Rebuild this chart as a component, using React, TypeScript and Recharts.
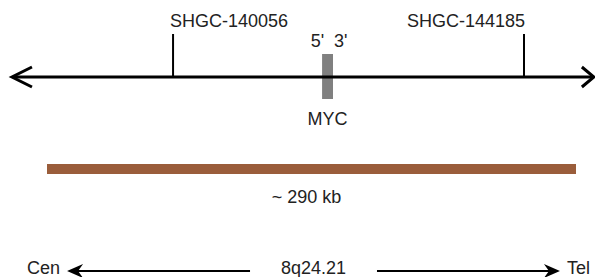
import { ComposedChart, XAxis, YAxis, ReferenceLine, ReferenceArea, ReferenceDot } from 'recharts'

// positions along the map, in kb (0 = left end of the ~290 kb region)
const MAP_SPAN_KB = [-19.2, 299.8]
const MARKER_NAMES = ['SHGC-140056', 'SHGC-144185']
const MARKER_KB = [69.1, 261.5]
const GENE_NAME = 'MYC'
const GENE_KB = [150.8, 156.8]
const STRAND_ENDS = ["5'", "3'"]
const REGION_KB = [0, 290]
const REGION_LABEL = '~ 290 kb'
const BAND_LABEL = '8q24.21'
const ORIENT_LABELS = ['Cen', 'Tel']
const CEN_ARROW_KB = [11.0, 111.3]
const TEL_ARROW_KB = [180.9, 281.2]

const FONT = '"Liberation Sans", Arial, sans-serif'
const TXT = '#222'
const FS = 18

// vertical rows (pixels from top)
const ROW_MAIN = 77
const ROW_TICK_TOP = 34
const ROW_BOTTOM = 271

function Label({ x, y, text, anchor = 'middle' }: { x: number; y: number; text: string; anchor?: string }) {
  return (
    <text x={x} y={y} textAnchor={anchor as any} fontFamily={FONT} fontSize={FS} fill={TXT}>
      {text}
    </text>
  )
}

function MainLine(p: any) {
  const { x1, x2, y1 } = p
  return (
    <g fill="none" stroke="#000" strokeWidth={3}>
      <line x1={x1 + 1} y1={y1} x2={x2 - 1} y2={y1} />
      <polyline points={`${x1 + 20},${y1 - 10} ${x1},${y1} ${x1 + 20},${y1 + 10}`} strokeLinejoin="miter" />
      <polyline points={`${x2 - 12},${y1 - 10} ${x2},${y1} ${x2 - 12},${y1 + 10}`} strokeLinejoin="miter" />
    </g>
  )
}

// line with a filled arrow head at the outer end and the label beyond the tip
function OrientArrow(p: any, label: string, dir: 'left' | 'right') {
  const { x1, x2, y1 } = p
  const tip = dir === 'left' ? x1 : x2
  const tail = dir === 'left' ? x2 : x1
  const s = dir === 'left' ? 1 : -1
  return (
    <g>
      <line x1={tail} y1={y1} x2={tip + s * 8} y2={y1} stroke="#000" strokeWidth={2} />
      <path
        d={`M${tip},${y1} L${tip + s * 16},${y1 - 7} L${tip + s * 11},${y1} L${tip + s * 16},${y1 + 7} Z`}
        fill="#000"
      />
      <Label x={tip - s * 7} y={y1 + 3} text={label} anchor={dir === 'left' ? 'end' : 'start'} />
    </g>
  )
}

export default function App() {
  const geneMid = (GENE_KB[0] + GENE_KB[1]) / 2
  const regionMid = (REGION_KB[0] + REGION_KB[1]) / 2
  const bandMid = (CEN_ARROW_KB[1] + TEL_ARROW_KB[0]) / 2
  return (
    <div style={{ position: 'absolute', left: 0, top: 0 }}>
      <ComposedChart width={595} height={277} data={[]} margin={{ top: 0, right: 19, bottom: 0, left: 47 }}>
        <XAxis type="number" dataKey="x" domain={REGION_KB} hide allowDataOverflow />
        <YAxis type="number" domain={[0, 277]} reversed hide allowDataOverflow />

        <ReferenceLine
          segment={[{ x: MAP_SPAN_KB[0], y: ROW_MAIN }, { x: MAP_SPAN_KB[1], y: ROW_MAIN }]}
          ifOverflow="visible"
          shape={MainLine}
        />

        {MARKER_KB.map((kb, i) => (
          <ReferenceLine
            key={MARKER_NAMES[i]}
            segment={[{ x: kb, y: ROW_MAIN }, { x: kb, y: ROW_TICK_TOP }]}
            ifOverflow="visible"
            stroke="#000"
            strokeWidth={2}
          />
        ))}
        {MARKER_KB.map((kb, i) => (
          <ReferenceDot
            key={'lab' + i}
            x={kb}
            y={27}
            ifOverflow="visible"
            shape={(p: any) => (
              <Label x={i === 0 ? p.cx - 3 : p.cx + 1} y={p.cy} text={MARKER_NAMES[i]} anchor={i === 0 ? 'start' : 'end'} />
            )}
          />
        ))}

        <ReferenceArea x1={GENE_KB[0]} x2={GENE_KB[1]} y1={54} y2={99} fill="#808080" fillOpacity={1} stroke="none" />
        <ReferenceDot x={GENE_KB[0]} y={47} ifOverflow="visible" shape={(p: any) => <Label x={p.cx + 2} y={p.cy} text={STRAND_ENDS[0]} anchor="end" />} />
        <ReferenceDot x={GENE_KB[1]} y={47} ifOverflow="visible" shape={(p: any) => <Label x={p.cx + 1} y={p.cy} text={STRAND_ENDS[1]} anchor="start" />} />
        <ReferenceDot x={geneMid} y={125} ifOverflow="visible" shape={(p: any) => <Label x={p.cx} y={p.cy} text={GENE_NAME} />} />

        <ReferenceArea x1={REGION_KB[0]} x2={REGION_KB[1]} y1={164} y2={174} fill="#9a5d3b" fillOpacity={1} stroke="none" />
        <ReferenceDot x={regionMid} y={203} ifOverflow="visible" shape={(p: any) => <Label x={p.cx - 5} y={p.cy} text={REGION_LABEL} />} />

        <ReferenceLine
          segment={[{ x: CEN_ARROW_KB[0], y: ROW_BOTTOM }, { x: CEN_ARROW_KB[1], y: ROW_BOTTOM }]}
          ifOverflow="visible"
          shape={(p: any) => OrientArrow(p, ORIENT_LABELS[0], 'left')}
        />
        <ReferenceLine
          segment={[{ x: TEL_ARROW_KB[0], y: ROW_BOTTOM }, { x: TEL_ARROW_KB[1], y: ROW_BOTTOM }]}
          ifOverflow="visible"
          shape={(p: any) => OrientArrow(p, ORIENT_LABELS[1], 'right')}
        />
        <ReferenceDot x={bandMid} y={ROW_BOTTOM + 3} ifOverflow="visible" shape={(p: any) => <Label x={p.cx} y={p.cy} text={BAND_LABEL} />} />
      </ComposedChart>
    </div>
  )
}
